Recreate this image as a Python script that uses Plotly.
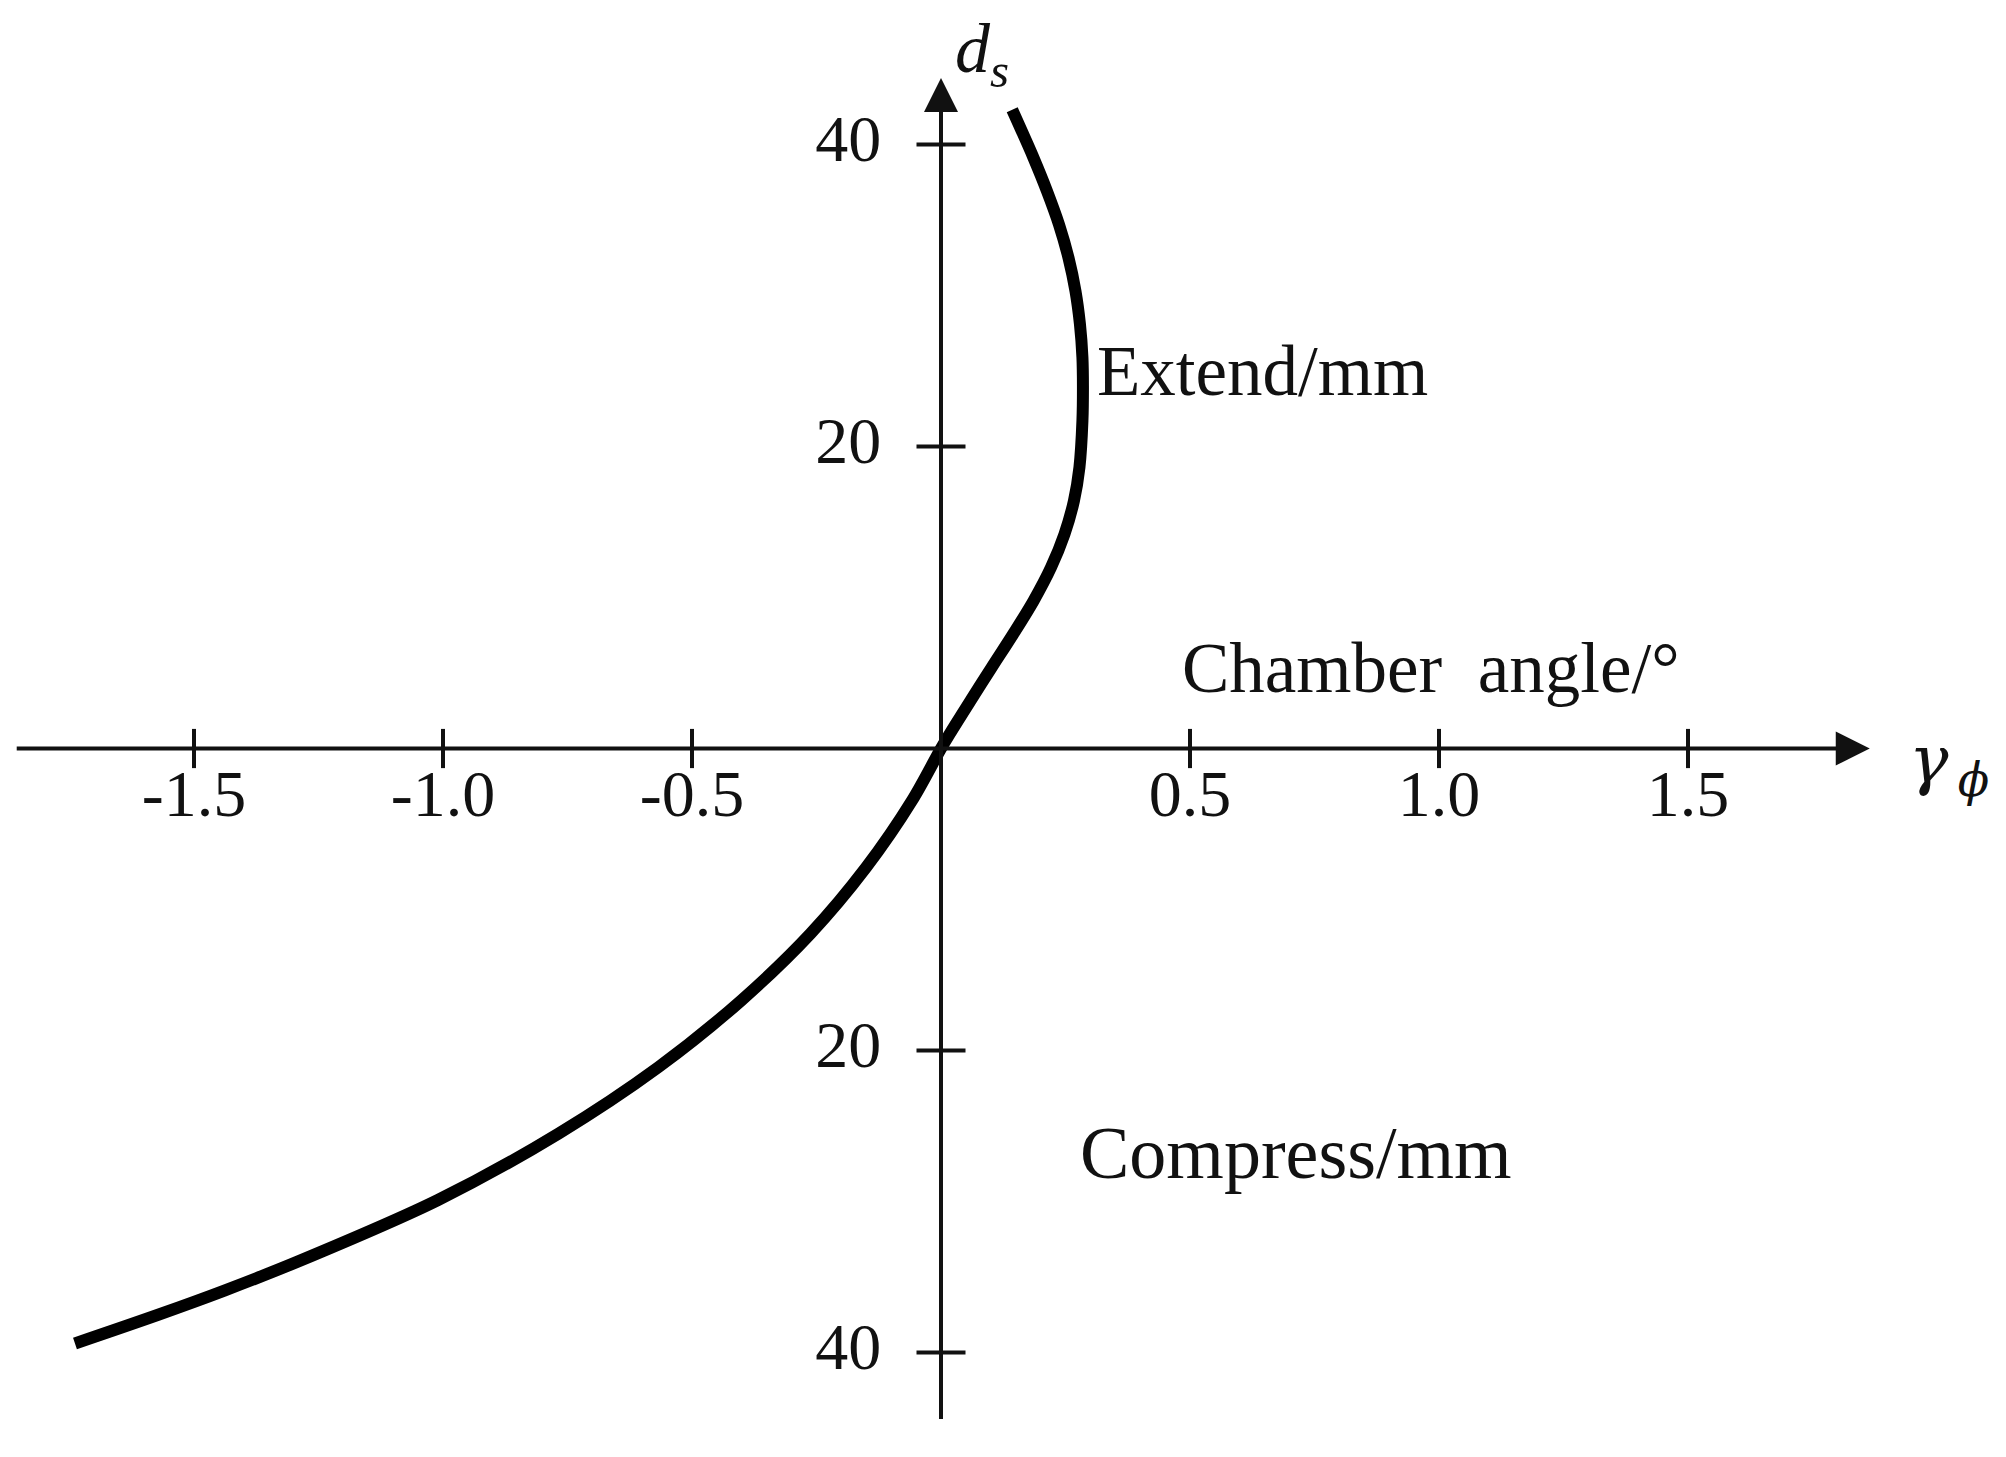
import plotly.graph_objects as go

# ---- data ----
camber_angle = [-1.739, -1.572, -1.439, -1.293, -1.010, -0.768, -0.567, -0.401, -0.262, -0.150,
                -0.058, 0.0, 0.0175, 0.0595, 0.102, 0.145, 0.186, 0.221, 0.248, 0.267, 0.278,
                0.284, 0.285, 0.284, 0.279, 0.270, 0.256, 0.237, 0.213, 0.186, 0.143]
travel_mm = [-39.4, -37.5, -35.9, -34.0, -29.9, -25.5, -21.09, -16.68, -12.26, -7.86,
             -3.44, 0.0, 0.97, 3.18, 5.38, 7.58, 9.79, 12.0, 14.2, 16.41, 18.62,
             21.7, 24.0, 25.9, 28.1, 30.3, 32.5, 34.7, 36.9, 39.1, 42.3]

x_tick_vals = [-1.5, -1.0, -0.5, 0.5, 1.0, 1.5]
x_tick_text = ["-1.5", "-1.0", "-0.5", "0.5", "1.0", "1.5"]
y_tick_vals = [40, 20, -20, -40]
y_tick_text = ["40", "20", "20", "40"]

# figure is drawn inside the page's default 8px body margin
W, H = 1990, 1441
X_RANGE = [-1.8735, 2.1225]
Y_RANGE = [-46.39, 49.04]
X_AXIS_SPAN = [-1.859, 1.865]
Y_AXIS_SPAN = [-44.5, 44.4]

SERIF = "Liberation Serif, Times New Roman, serif"
INK = "#111111"

fig = go.Figure()

# main curve
fig.add_trace(go.Scatter(
    x=camber_angle, y=travel_mm, mode="lines",
    line=dict(color="black", width=12, shape="spline", smoothing=0.9),
    hoverinfo="skip"))

# tick marks crossing the axes
fig.add_trace(go.Scatter(
    x=x_tick_vals, y=[0] * len(x_tick_vals), mode="markers",
    marker=dict(symbol="line-ns", size=28, line=dict(color=INK, width=4)),
    hoverinfo="skip"))
fig.add_trace(go.Scatter(
    x=[0] * len(y_tick_vals), y=y_tick_vals, mode="markers",
    marker=dict(symbol="line-ew", size=35, line=dict(color=INK, width=4)),
    hoverinfo="skip"))

# tick labels
fig.add_trace(go.Scatter(
    x=x_tick_vals, y=[-3.4] * len(x_tick_vals), mode="text",
    text=x_tick_text, textposition="middle center",
    textfont=dict(family=SERIF, size=66, color=INK), hoverinfo="skip"))
fig.add_trace(go.Scatter(
    x=[-0.12] * len(y_tick_vals), y=y_tick_vals, mode="text",
    text=y_tick_text, textposition="middle left",
    textfont=dict(family=SERIF, size=66, color=INK), hoverinfo="skip"))

annotations = [
    # x axis with arrow
    dict(x=X_AXIS_SPAN[1], y=0, ax=X_AXIS_SPAN[0], ay=0, xref="x", yref="y",
         axref="x", ayref="y", showarrow=True, arrowhead=2, arrowsize=1.7,
         arrowwidth=4, arrowcolor=INK, text=""),
    # y axis with arrow
    dict(x=0, y=Y_AXIS_SPAN[1], ax=0, ay=Y_AXIS_SPAN[0], xref="x", yref="y",
         axref="x", ayref="y", showarrow=True, arrowhead=2, arrowsize=1.7,
         arrowwidth=4, arrowcolor=INK, text=""),
    dict(x=0.025, y=46.0, xref="x", yref="y", showarrow=False,
         text="<i>d</i><sub><i>s</i></sub>", xanchor="left", yanchor="middle",
         font=dict(family=SERIF, size=70, color=INK)),
    dict(x=1.94, y=-1.0, xref="x", yref="y", showarrow=False,
         text="<i>γ</i><sub>\u2009<i>ϕ</i></sub>", xanchor="left", yanchor="middle",
         font=dict(family="DejaVu Serif, serif", size=66, color=INK)),
    dict(x=0.31, y=25.0, xref="x", yref="y", showarrow=False,
         text="Extend/mm", xanchor="left", yanchor="middle",
         font=dict(family=SERIF, size=71, color=INK)),
    dict(x=0.48, y=5.3, xref="x", yref="y", showarrow=False,
         text="Chamber\u00a0 angle/°", xanchor="left", yanchor="middle",
         font=dict(family=SERIF, size=71, color=INK)),
    dict(x=0.275, y=-26.8, xref="x", yref="y", showarrow=False,
         text="Compress/mm", xanchor="left", yanchor="middle",
         font=dict(family=SERIF, size=74, color=INK)),
]

fig.update_layout(
    width=W, height=H,
    margin=dict(l=0, r=0, t=0, b=0),
    paper_bgcolor="white", plot_bgcolor="white",
    showlegend=False,
    xaxis=dict(range=X_RANGE, visible=False, fixedrange=True),
    yaxis=dict(range=Y_RANGE, visible=False, fixedrange=True),
    annotations=annotations,
)

fig.write_html("out.html")
